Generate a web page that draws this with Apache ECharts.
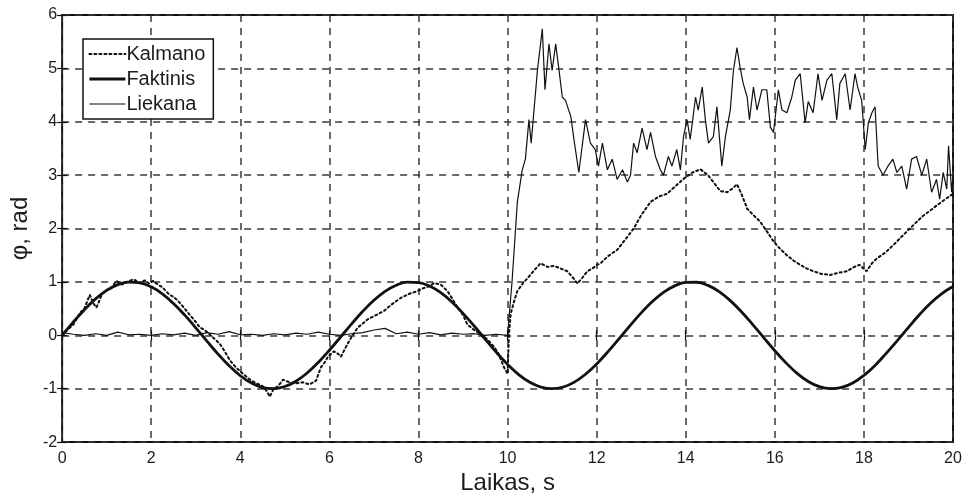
<!DOCTYPE html>
<html>
<head>
<meta charset="utf-8">
<script src="https://cdn.jsdelivr.net/npm/echarts@6/dist/echarts.min.js"></script>
<style>html,body{margin:0;padding:0;background:#fff}#c{width:968px;height:500px}</style>
</head>
<body>
<div id="c"></div>
<script>
// ---- data ----
const xTicks = [0,2,4,6,8,10,12,14,16,18,20];
const yTicks = [-2,-1,0,1,2,3,4,5,6];

const faktT = [0,0.25,0.5,0.75,1,1.25,1.5,1.75,2,2.25,2.5,2.75,3,3.25,3.5,3.75,4,4.25,4.5,4.75,5,5.25,5.5,5.75,6,6.25,6.5,6.75,7,7.25,7.5,7.75,8,8.25,8.5,8.75,9,9.25,9.5,9.75,10,10.25,10.5,10.75,11,11.25,11.5,11.75,12,12.25,12.5,12.75,13,13.25,13.5,13.75,14,14.25,14.5,14.75,15,15.25,15.5,15.75,16,16.25,16.5,16.75,17,17.25,17.5,17.75,18,18.25,18.5,18.75,19,19.25,19.5,19.75,20];
const faktV = [0,0.247,0.479,0.682,0.841,0.949,0.997,0.984,0.909,0.778,0.598,0.382,0.141,-0.108,-0.351,-0.572,-0.757,-0.895,-0.978,-0.999,-0.959,-0.859,-0.706,-0.508,-0.279,-0.033,0.215,0.450,0.657,0.823,0.938,0.995,0.989,0.922,0.798,0.625,0.412,0.174,-0.075,-0.320,-0.544,-0.735,-0.880,-0.970,-1.000,-0.968,-0.876,-0.729,-0.537,-0.311,-0.066,0.183,0.420,0.632,0.804,0.926,0.991,0.994,0.935,0.818,0.650,0.442,0.206,-0.042,-0.288,-0.516,-0.712,-0.864,-0.961,-0.999,-0.976,-0.893,-0.751,-0.564,-0.338,-0.099,0.150,0.390,0.606,0.783,0.913];

const liekT = [0,0.25,0.5,0.75,1,1.25,1.5,1.75,2,2.25,2.5,2.75,3,3.25,3.5,3.75,4,4.25,4.5,4.75,5,5.25,5.5,5.75,6,6.25,6.5,6.75,7,7.25,7.5,7.75,8,8.25,8.5,8.75,9,9.25,9.5,9.75,10,
  10.1,10.22,10.33,10.4,10.48,10.53,10.67,10.78,10.84,10.93,11.0,11.08,11.15,11.23,11.3,11.42,11.49,11.6,11.75,11.86,11.97,12.04,12.13,12.24,12.35,12.46,12.58,12.69,12.76,12.83,12.91,13.02,13.13,13.21,13.32,13.43,13.5,13.61,13.69,13.8,13.88,13.95,14.03,14.1,14.22,14.28,14.37,14.44,14.51,14.62,14.7,14.81,14.89,15.0,15.07,15.15,15.22,15.29,15.38,15.43,15.52,15.6,15.71,15.82,15.9,15.97,16.08,16.16,16.27,16.38,16.46,16.57,16.68,16.75,16.86,16.97,17.06,17.17,17.28,17.39,17.46,17.58,17.69,17.8,17.86,17.95,18.03,18.1,18.18,18.25,18.32,18.43,18.54,18.65,18.74,18.85,18.96,19.07,19.18,19.3,19.41,19.52,19.63,19.7,19.78,19.86,19.9,19.97,20];
const liekV = [0.05,0.02,0.0,0.03,0.0,0.06,0.01,0.02,0.0,0.03,0.01,0.04,0.0,0.05,0.02,0.07,0.01,0.02,0.0,0.03,0.01,0.04,0.02,0.06,0.02,0.0,0.03,0.05,0.10,0.13,0.03,0.06,0.02,0.05,0.01,0.04,0.02,0.03,0.0,0.02,0.0,
  1.0,2.5,3.1,3.3,4.04,3.6,4.96,5.74,4.6,5.46,4.96,5.46,5.0,4.46,4.4,4.1,3.67,3.05,4.04,3.6,3.48,3.17,3.6,3.1,3.3,2.92,3.1,2.87,3.0,3.6,3.42,3.88,3.48,3.8,3.35,3.1,3.0,3.35,3.17,3.48,3.1,3.72,4.04,3.67,4.46,4.22,4.65,4.04,3.6,3.72,4.28,3.17,3.72,4.22,4.96,5.39,5.02,4.72,4.46,4.04,4.65,4.22,4.6,4.6,3.9,3.8,4.6,4.22,4.17,4.46,4.78,4.9,3.98,4.38,4.17,4.9,4.4,4.78,4.9,4.04,4.72,4.9,4.22,4.9,4.65,4.4,3.48,3.98,4.17,4.28,3.17,3.0,3.17,3.3,3.05,3.17,2.74,3.3,3.35,3.0,3.3,2.68,2.92,2.55,3.05,2.74,3.55,2.68,3.0];

const kalmT = [0,0.1,0.25,0.4,0.5,0.62,0.7,0.77,0.9,1.0,1.1,1.22,1.35,1.45,1.6,1.75,1.85,1.95,2.04,2.15,2.25,2.41,2.5,2.6,2.7,2.79,2.9,3.0,3.09,3.2,3.31,3.4,3.54,3.65,3.76,3.9,4.06,4.2,4.36,4.5,4.6,4.66,4.75,4.85,4.96,5.1,5.25,5.4,5.55,5.7,5.81,5.9,5.97,6.1,6.2,6.26,6.35,6.41,6.49,6.64,6.75,6.86,7.0,7.1,7.23,7.4,7.6,7.8,7.98,8.1,8.25,8.35,8.5,8.65,8.75,8.88,9.0,9.1,9.25,9.4,9.55,9.7,9.8,9.92,10.0,
  10.03,10.07,10.15,10.22,10.35,10.45,10.6,10.74,10.9,11.04,11.2,11.34,11.45,11.57,11.68,11.79,11.9,12.01,12.09,12.25,12.46,12.65,12.83,13.0,13.21,13.4,13.58,13.75,13.95,14.15,14.33,14.5,14.62,14.78,14.93,15.05,15.15,15.25,15.38,15.52,15.67,15.82,15.97,16.12,16.27,16.42,16.57,16.72,16.87,17.05,17.24,17.42,17.62,17.78,17.9,18.06,18.18,18.29,18.48,18.66,18.85,19.03,19.18,19.33,19.48,19.63,19.78,19.93,20];
const kalmV = [0.0,0.09,0.2,0.42,0.5,0.76,0.6,0.52,0.78,0.85,0.88,1.02,0.95,1.0,1.05,0.98,1.03,0.97,1.02,0.95,0.9,0.76,0.72,0.65,0.55,0.46,0.35,0.25,0.15,0.1,0.02,-0.05,-0.16,-0.3,-0.46,-0.6,-0.72,-0.82,-0.9,-0.95,-1.05,-1.15,-1.0,-0.95,-0.83,-0.88,-0.9,-0.88,-0.92,-0.85,-0.6,-0.5,-0.4,-0.3,-0.35,-0.4,-0.25,-0.16,-0.04,0.15,0.22,0.3,0.36,0.4,0.46,0.58,0.7,0.78,0.83,0.88,0.92,0.98,0.95,0.83,0.7,0.52,0.38,0.2,0.1,0.02,-0.08,-0.22,-0.35,-0.6,-0.72,
  0.0,0.4,0.65,0.83,0.98,1.07,1.22,1.35,1.28,1.3,1.25,1.2,1.1,0.97,1.08,1.2,1.25,1.32,1.35,1.48,1.6,1.8,2.0,2.25,2.5,2.6,2.65,2.78,2.93,3.05,3.11,3.0,2.87,2.7,2.68,2.75,2.83,2.65,2.37,2.25,2.13,1.95,1.76,1.62,1.5,1.4,1.32,1.25,1.2,1.15,1.13,1.17,1.2,1.28,1.32,1.2,1.35,1.44,1.55,1.69,1.85,2.0,2.12,2.24,2.33,2.43,2.52,2.61,2.65];

const seriesNames = ['Kalmano','Faktinis','Liekana'];
const xName = 'Laikas, s';
const yName = 'φ, rad';

// ---- build ----
const zip = (t, v) => t.map((x, i) => [x, v[i]]);
const FONT = 'Liberation Sans, Arial, Helvetica, sans-serif';
const TXT = '#1c1c1c';

const chart = echarts.init(document.getElementById('c'), null, {renderer: 'canvas'});
const gridLine = {show: true, lineStyle: {color: '#3a3a3a', type: [7, 6], width: 1.5}};
chart.setOption({
  animation: false,
  backgroundColor: '#fff',
  color: ['#111', '#111', '#111'],
  grid: {left: 60, right: 15, top: 15, bottom: 53, show: true, borderColor: '#111', borderWidth: 2, backgroundColor: 'transparent'},
  legend: {
    orient: 'vertical', left: 83, top: 39,
    data: seriesNames,
    backgroundColor: '#fff', borderColor: '#111', borderWidth: 1.5,
    padding: [5, 8, 5, 5], itemGap: 5, itemWidth: 36, itemHeight: 14,
    itemStyle: {opacity: 0},
    lineStyle: {width: 'inherit'},
    textStyle: {fontFamily: FONT, fontSize: 20, color: TXT, padding: [0, 0, 0, -4]}
  },
  xAxis: [{
    type: 'value', min: 0, max: 20, interval: 2,
    name: xName, nameLocation: 'middle', nameGap: 25,
    nameTextStyle: {fontFamily: FONT, fontSize: 24, color: TXT},
    axisLine: {show: false},
    axisTick: {inside: true, length: 5, lineStyle: {color: '#111', width: 1.2}},
    axisLabel: {fontFamily: FONT, fontSize: 16, color: TXT, margin: 8,
      formatter: v => xTicks.includes(v) ? String(v) : ''},
    splitLine: gridLine
  }, {
    type: 'value', min: 0, max: 20, interval: 2, position: 'top',
    axisLine: {show: false}, axisLabel: {show: false},
    axisTick: {inside: true, length: 5, lineStyle: {color: '#111', width: 1.2}},
    splitLine: {show: false}
  }],
  yAxis: [{
    type: 'value', min: -2, max: 6, interval: 1,
    name: yName, nameLocation: 'middle', nameGap: 28, nameRotate: 90,
    nameTextStyle: {fontFamily: FONT, fontSize: 24, color: TXT},
    axisLine: {show: false},
    axisTick: {inside: true, length: 5, lineStyle: {color: '#111', width: 1.2}},
    axisLabel: {fontFamily: FONT, fontSize: 16, color: TXT, margin: 5,
      formatter: v => yTicks.includes(v) ? String(v) : ''},
    splitLine: gridLine
  }, {
    type: 'value', min: -2, max: 6, interval: 1, position: 'right',
    axisLine: {show: false}, axisLabel: {show: false},
    axisTick: {inside: true, length: 5, lineStyle: {color: '#111', width: 1.2}},
    splitLine: {show: false}
  }],
  series: [
    {name: seriesNames[0], type: 'line', data: zip(kalmT, kalmV), showSymbol: false, symbol: 'none',
     itemStyle: {color: '#111'},
     lineStyle: {color: '#111', width: 2, type: [2, 3], cap: 'round'}, z: 3},
    {name: seriesNames[1], type: 'line', data: zip(faktT, faktV), showSymbol: false, symbol: 'none', smooth: 0.4,
     itemStyle: {color: '#111'},
     lineStyle: {color: '#111', width: 2.8}, z: 4},
    {name: seriesNames[2], type: 'line', data: zip(liekT, liekV), showSymbol: false, symbol: 'none',
     itemStyle: {color: '#111'},
     lineStyle: {color: '#111', width: 1.2}, z: 5}
  ]
});
</script>
</body>
</html>
